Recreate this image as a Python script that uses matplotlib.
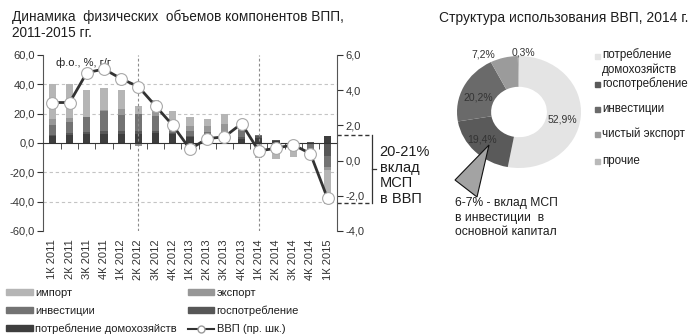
import matplotlib
matplotlib.use("Agg")
import matplotlib.pyplot as plt
import matplotlib.transforms as mtransforms
from matplotlib.patches import Patch, Polygon, Rectangle
from matplotlib.lines import Line2D
from matplotlib.ticker import FuncFormatter
import numpy as np

plt.rcParams['font.family'] = ['Liberation Sans', 'DejaVu Sans']
plt.rcParams['text.color'] = '#1e1e1e'

# quarterly contributions to GDP growth, p.p. (left axis)
quarters = ["1К 2011", "2К 2011", "3К 2011", "4К 2011", "1К 2012", "2К 2012",
            "3К 2012", "4К 2012", "1К 2013", "2К 2013", "3К 2013", "4К 2013",
            "1К 2014", "2К 2014", "3К 2014", "4К 2014", "1К 2015"]
hh_cons = [4.5, 5.5, 6, 6, 6, 6, 7, 6, 4, 3.5, 3, 3, 3.5, 1.5, 0, 0, 4.6]
gov_cons = [1, 1, 1.5, 2, 2, 2, 1.5, 1, 1, 1, 1, 1, 1, 0.5, 0, 0.8, -9]
invest = [7, 7.5, 10.5, 14, 11, 12, 10, 4, 3.5, 3, 1, 5, 1, -3, -2, -5, -7.5]
exports = [4, 3, -1, 0.5, 4, -2, 3, 4, 3, 4, 8, 1, -1, 0, 0, -1, -2]
imports = [24, 23, 18, 15, 13, 5.5, 8, 7, 6.5, 5, 6.5, 1.5, -9.5, -8, -7.5, -4, -23]
# real GDP, % y/y (right axis)
gdp = [3.3, 3.3, 5.0, 5.2, 4.65, 4.2, 3.1, 2.0, 0.65, 1.25, 1.35, 2.1,
       0.55, 0.7, 0.9, 0.4, -2.15]

# GDP use structure, 2014
pie_names = ["потребление\nдомохозяйств", "госпотребление", "инвестиции",
             "чистый экспорт", "прочие"]
pie_shares = [52.9, 19.4, 20.2, 7.2, 0.3]

W, H = 689, 336
fig = plt.figure(figsize=(W / 100, H / 100), dpi=100)

def fx(px):
    return px / W

def fy(py):
    return 1 - py / H

comma = FuncFormatter(lambda v, p: f"{v:.1f}".replace('.', ','))

# ---- left chart: stacked contributions ----
ax = fig.add_axes([fx(43), fy(231), fx(294), 176 / H])
x = np.arange(len(quarters))
series = [
    (hh_cons, 'потребление домохозяйств', '#3e3e3e'),
    (gov_cons, 'госпотребление', '#575757'),
    (invest, 'инвестиции', '#737373'),
    (exports, 'экспорт', '#979797'),
    (imports, 'импорт', '#b5b5b5'),
]
pos_base = np.zeros(len(x))
neg_base = np.zeros(len(x))
for vals, name, col in series:
    v = np.array(vals, dtype=float)
    base = np.where(v >= 0, pos_base, neg_base)
    ax.bar(x, v, 0.42, bottom=base, color=col, zorder=2)
    pos_base += np.clip(v, 0, None)
    neg_base += np.clip(v, None, 0)

ax.set_xlim(-0.55, len(x) - 0.45)
ax.set_ylim(-60, 60)
yt = np.arange(-60, 61, 20)
ax.set_yticks(yt)
ax.yaxis.set_major_formatter(comma)
for yv in yt:
    if yv not in (-60, 0, 60):
        ax.axhline(yv, color='#c4c4c4', lw=0.8, ls=(0, (3, 2.5)), zorder=1)
for xv in (5, 12):
    ax.axvline(xv, color='#8c8c8c', lw=0.8, ls=(0, (2.5, 2)), zorder=3)

for s in ('top', 'right'):
    ax.spines[s].set_visible(False)
ax.spines['bottom'].set_position(('data', 0))
ax.spines['bottom'].set_color('#333333')
ax.spines['bottom'].set_zorder(3)
ax.spines['left'].set_color('#555555')
ax.set_xticks([])
ax.set_xticks(np.arange(0.5, len(x) - 1), minor=True)
ax.tick_params(axis='x', which='minor', length=4, direction='out', color='#333333')
ax.tick_params(axis='y', length=4, labelsize=8, colors='#333333', pad=2)

sec = ax.secondary_xaxis('bottom')
sec.set_xticks(x, quarters, rotation=90)
sec.tick_params(length=0, pad=6, labelsize=8, colors='#333333')
sec.spines['bottom'].set_visible(False)

ax.text(0.045, 0.955, "ф.о., %, г/г", transform=ax.transAxes, fontsize=8,
        va='center', ha='left')

# GDP line on the right axis
ax2 = ax.twinx()
ax2.set_ylim(-4, 6)
ax2.set_yticks(np.arange(-4, 7, 2))
ax2.yaxis.set_major_formatter(comma)
for s in ('top', 'left', 'bottom'):
    ax2.spines[s].set_visible(False)
ax2.spines['right'].set_color('#555555')
ax2.tick_params(axis='y', length=4, labelsize=8, colors='#333333', pad=2)
ax2.plot(x, gdp, color='#333333', lw=2, marker='o', ms=8.5,
         mfc='white', mec='#a8a8a8', mew=0.8, zorder=4)

# bracket for the SME share in GDP
tr = mtransforms.blended_transform_factory(ax2.transAxes, ax2.transData)
xb = (372 - 43) / 294
for yv in (1.45, -2.4):
    ax2.plot([1.0, xb], [yv, yv], transform=tr, color='#333333', lw=1,
             ls=(0, (3, 2)), clip_on=False)
ax2.plot([xb, xb], [1.45, -2.4], transform=tr, color='#333333', lw=0.9, clip_on=False)
ax2.plot([xb, xb + 0.015], [-0.5, -0.5], transform=tr, color='#333333', lw=0.9,
         clip_on=False)
ax2.text(xb + 0.026, -0.85, "20-21%\nвклад\nМСП\nв ВВП", transform=tr,
         fontsize=10.5, va='center', ha='left', linespacing=1.15)

# legend under the left chart
handles = [
    Patch(color='#b5b5b5'), Patch(color='#737373'), Patch(color='#3e3e3e'),
    Patch(color='#979797'), Patch(color='#575757'),
    Line2D([], [], color='#333333', lw=1.5, marker='o', ms=5,
           mfc='white', mec='#999999'),
]
labels = ['импорт', 'инвестиции', 'потребление домохозяйств',
          'экспорт', 'госпотребление', 'ВВП (пр. шк.)']
fig.legend(handles, labels, ncol=2, loc='upper left',
           bbox_to_anchor=(fx(6), fy(288)), frameon=False, fontsize=8,
           handlelength=2.4, handleheight=0.45, labelspacing=0.7,
           handletextpad=0.2, columnspacing=1.0, borderpad=0, borderaxespad=0)

fig.text(fx(12), fy(10), "Динамика  физических  объемов компонентов ВПП,\n2011-2015 гг.",
         fontsize=9.8, va='top', ha='left', linespacing=1.1)

# ---- right chart: GDP use structure donut ----
pie_colors = ['#e4e4e4', '#5a5a5a', '#6a6a6a', '#9b9b9b', '#b9b9b9']
pax = fig.add_axes([fx(457), fy(168), fx(124), 112 / H])
wedges, _ = pax.pie(pie_shares, colors=pie_colors, startangle=90,
                    counterclock=False, radius=1,
                    wedgeprops=dict(width=0.55, edgecolor='none'))
pax.set_xlim(-1, 1)
pax.set_ylim(-1, 1)
pax.set_aspect('auto')

lab_r = [0.72, 0.78, 0.71, 1.17, 1.07]
lab_shift = [-6, -5, 6, 15, -4]
for w, share, r, d in zip(wedges, pie_shares, lab_r, lab_shift):
    ang = np.deg2rad((w.theta1 + w.theta2) / 2 + d)
    pax.text(r * np.cos(ang), r * np.sin(ang), f"{share:.1f}%".replace('.', ','),
             fontsize=7.5, ha='center', va='center', color='#333333')

# callout from the investment wedge
tri = Polygon([[fx(489), fy(145)], [fx(455), fy(180)], [fx(477), fy(197)]],
              closed=True, transform=fig.transFigure, facecolor='#a3a3a3',
              edgecolor='#111111', lw=0.8)
fig.add_artist(tri)
fig.text(fx(455), fy(197), "6-7% - вклад МСП\nв инвестиции  в\nосновной капитал",
         fontsize=8.7, va='top', ha='left', linespacing=1.3)

fig.text(fx(688), fy(18), "Структура использования ВВП, 2014 г.",
         fontsize=10, va='center', ha='right')

leg_y = [56, 84, 109, 134, 161]
for name, col, py in zip(pie_names, pie_colors, leg_y):
    fig.add_artist(Rectangle((fx(595), fy(py + 3)), fx(5), 5 / H,
                             transform=fig.transFigure, color=col))
    two_line = '\n' in name
    fig.text(fx(602), fy(py - 8) if two_line else fy(py), name, fontsize=8.4,
             va='top' if two_line else 'center', ha='left', linespacing=1.25)

fig.savefig("out.png", dpi=100)
